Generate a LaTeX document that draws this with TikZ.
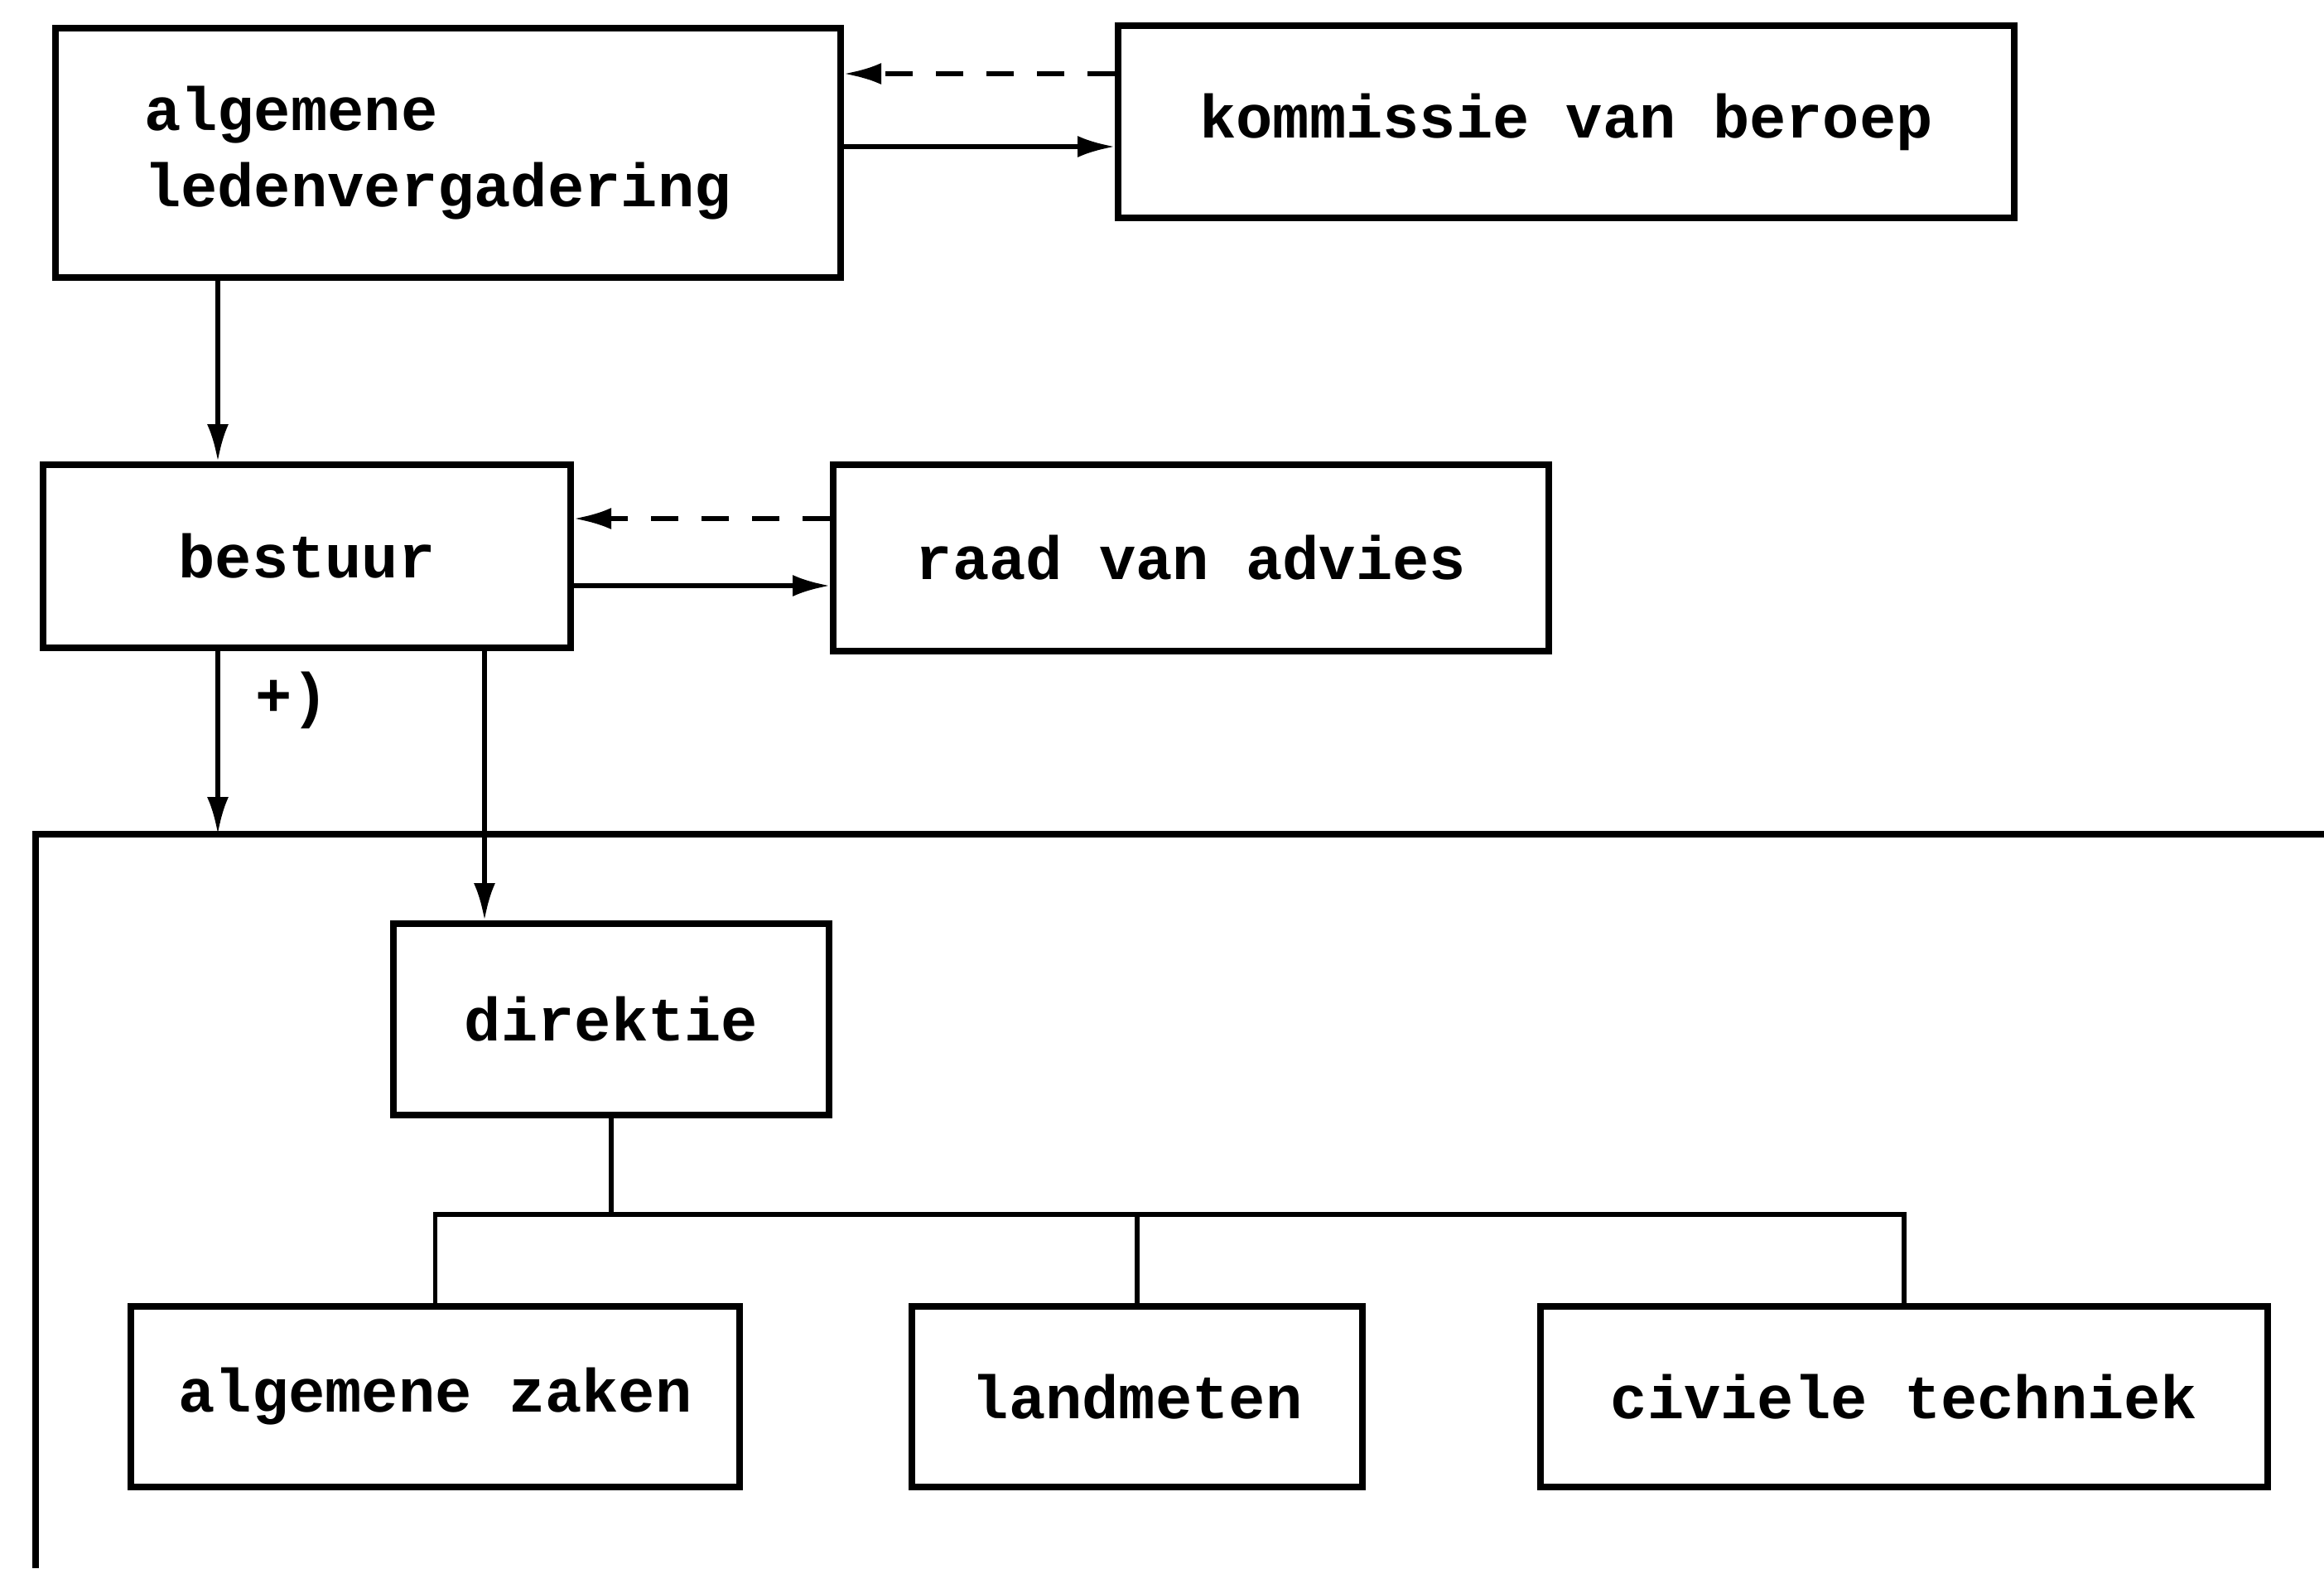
\documentclass[tikz,border=0pt]{standalone}
\usepackage{fontspec}
\setmonofont{Liberation Mono}
\usetikzlibrary{positioning, arrows.meta}

\tikzset{
  box/.style={draw, line width=2.3pt, inner sep=0pt, anchor=north west},
  conn/.style={line width=1.6pt},
  dashline/.style={line width=1.6pt, dash pattern=on 3.3mm off 2.8mm}
}

\begin{document}
\begin{tikzpicture}[>={Latex[length=4.5mm, width=2.6mm]}, every node/.style={font=\ttfamily\bfseries\fontsize{21}{26}\selectfont}]
  \useasboundingbox (0,0) rectangle (28.06,-18.93);

  % boxes
  \node[box, minimum width=9.48cm, minimum height=3.01cm, text width=7.34cm, align=left] (alv) at (0.63,-0.30) {algemene\\ledenvergadering};
  \node[box, minimum width=10.82cm, minimum height=2.32cm] (kom) at (13.46,-0.27) {kommissie van beroep};
  \node[box, minimum width=6.37cm, minimum height=2.21cm] (best) at (0.48,-5.57) {bestuur};
  \node[box, minimum width=8.64cm, minimum height=2.25cm] (raad) at (10.02,-5.57) {raad van advies};
  \node[box, minimum width=5.26cm, minimum height=2.31cm] (dir) at (4.71,-11.11) {direktie};
  \node[box, minimum width=7.35cm, minimum height=2.18cm] (az) at (1.54,-15.73) {algemene zaken};
  \node[box, minimum width=5.44cm, minimum height=2.18cm] (lm) at (10.97,-15.73) {landmeten};
  \node[box, minimum width=8.78cm, minimum height=2.18cm] (ct) at (18.56,-15.73) {civiele techniek};
  \node (plus) at (3.53,-8.45) {+)};

  % frame round the office
  \draw[line width=2.3pt] (28.06,-10.07) -| (0.43,-18.93);

  % helper points
  \coordinate (a1) at ([yshift=-1.47cm]alv.north east);
  \coordinate (a2) at ([yshift=-0.59cm]alv.north east);
  \coordinate (b1) at ([yshift=-1.50cm]best.north east);
  \coordinate (b2) at ([yshift=-0.69cm]best.north east);
  \coordinate (adrop) at ([xshift=2cm]alv.south west);
  \coordinate (pdrop) at ([xshift=2.15cm]best.south west);
  \coordinate (ddrop) at ([xshift=5.37cm]best.south west);
  \coordinate (frametop) at (pdrop |- 0,-10.07);
  \coordinate (bar) at ([yshift=-1.16cm]dir.south);

  % connectors
  \draw[conn, ->] (a1) -- (a1 -| kom.west);
  \draw[dashline, ->] (a2 -| kom.west) -- (a2);
  \draw[conn, ->] (adrop) -- (adrop |- best.north);
  \draw[conn, ->] (b1) -- (b1 -| raad.west);
  \draw[dashline, ->] (b2 -| raad.west) -- (b2);
  \draw[conn, ->] (pdrop) -- (frametop);
  \draw[conn, ->] (ddrop) -- (ddrop |- dir.north);

  % tree
  \draw[conn] (dir.south) -- (bar);
  \draw[conn] (az.north) |- (bar) -| (ct.north);
  \draw[conn] (lm.north) -- (lm.north |- bar);
\end{tikzpicture}
\end{document}
